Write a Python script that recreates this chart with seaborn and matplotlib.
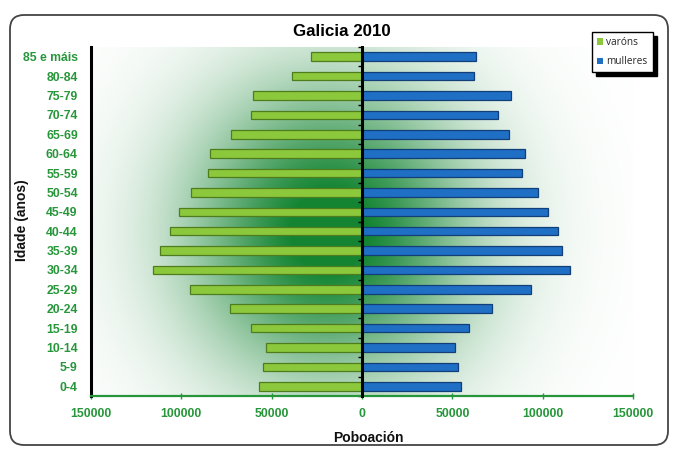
import numpy as np
import pandas as pd
import matplotlib
matplotlib.use("Agg")
import matplotlib.pyplot as plt
from matplotlib.patches import FancyBboxPatch
from matplotlib.transforms import IdentityTransform
import seaborn as sns

# Age groups, oldest at the top
idades = ["85 e máis", "80-84", "75-79", "70-74", "65-69", "60-64", "55-59",
          "50-54", "45-49", "40-44", "35-39", "30-34", "25-29", "20-24",
          "15-19", "10-14", "5-9", "0-4"]
varons = [28200, 38700, 60300, 61300, 72300, 84000, 85400, 94900, 101300,
          106500, 112000, 115500, 95200, 72900, 61600, 53100, 55000, 57200]
mulleres = [62900, 61800, 82600, 75400, 81300, 90400, 88500, 97400, 103100,
            108500, 110700, 114900, 93300, 71700, 59000, 51200, 52900, 54800]
xticks = [-150000, -100000, -50000, 0, 50000, 100000, 150000]

VERDE_TXT = "#27963a"
C_VAR = "#8cc83c"
C_MUL = "#1f6fc4"

sns.set_theme(style="white")
plt.rcParams["font.family"] = ["Liberation Sans", "DejaVu Sans"]

df = pd.DataFrame({"idade": idades, "varons": [-v for v in varons], "mulleres": mulleres})

fig = plt.figure(figsize=(6.75, 4.51), dpi=100)
ax = fig.add_axes([91 / 675, 1 - 396 / 451, (633 - 91) / 675, (396 - 47) / 451])

# soft green glow behind the pyramid
nx, ny = 400, 300
u = np.linspace(-1, 1, nx)
v = np.linspace(-0.5, len(idades) - 0.5, ny)
U, V = np.meshgrid(u, v)
inten = np.exp(-((U + 0.12) / 0.52) ** 2 - ((V - 9.0) / 7.5) ** 2)
inten = np.clip(inten * 1.08, 0, 1)
dark = np.array([0.08, 0.52, 0.20])
img = (1 - inten[..., None]) * np.ones(3) + inten[..., None] * dark
ax.imshow(img, extent=[-150000, 150000, len(idades) - 0.5, -0.5],
          aspect="auto", zorder=0, interpolation="bilinear")

sns.barplot(data=df, x="varons", y="idade", order=idades, orient="h",
            color=C_VAR, width=0.44, edgecolor="#4f7d1e", linewidth=0.9,
            saturation=1, ax=ax, zorder=3, label="varóns")
sns.barplot(data=df, x="mulleres", y="idade", order=idades, orient="h",
            color=C_MUL, width=0.44, edgecolor="#123f78", linewidth=0.9,
            saturation=1, ax=ax, zorder=3, label="mulleres")

ax.set_xlim(-150000, 150000)
ax.set_ylim(len(idades) - 0.5, -0.5)

# axes styling
ax.spines["top"].set_visible(False)
ax.spines["left"].set_color("black")
ax.spines["left"].set_linewidth(2.2)
ax.spines["bottom"].set_color(VERDE_TXT)
ax.spines["bottom"].set_linewidth(1.6)
ax.spines["right"].set_position(("data", 0))
ax.spines["right"].set_color("black")
ax.spines["right"].set_linewidth(2.2)
ax.spines["right"].set_zorder(5)

ax.set_xticks(xticks)
ax.set_xticklabels([f"{abs(t)}" for t in xticks])
ax.tick_params(axis="x", which="major", bottom=True, direction="inout",
               length=5, width=1, color=VERDE_TXT, labelcolor=VERDE_TXT,
               labelsize=8.8, pad=6)
for lab in ax.get_xticklabels():
    lab.set_fontweight("bold")

ax.set_yticks(range(len(idades)))
ax.set_yticklabels(idades)
ax.tick_params(axis="y", which="major", left=False, right=False,
               labelleft=True, labelright=False, labelcolor=VERDE_TXT,
               labelsize=8.8, pad=3.5)
ax.set_yticks(np.arange(-0.5, len(idades), 1.0), minor=True)
ax.tick_params(axis="y", which="minor", left=False, right=True,
               direction="in", length=3, width=1, color="black")
for lab in ax.get_yticklabels():
    lab.set_fontweight("bold")

ax.set_xlabel("")
ax.set_ylabel("")
fig.text(342 / 675, 1 - 32 / 451, "Galicia 2010", ha="center", va="center",
         fontsize=12.2, fontweight="bold", color="black")
fig.text(368 / 675, 1 - 438 / 451, "Poboación", ha="center", va="center",
         fontsize=10, fontweight="bold", color="#111111")
fig.text(22 / 675, 1 - 220 / 451, "Idade (anos)", ha="center", va="center",
         rotation=90, fontsize=10, fontweight="bold", color="#111111")

leg = ax.legend(loc="upper left", bbox_to_anchor=(592 / 675, 1 - 32 / 451),
                bbox_transform=fig.transFigure, frameon=True, fancybox=False,
                shadow={"color": "black", "alpha": 1, "ox": 3, "oy": -3},
                edgecolor="black", framealpha=1, fontsize=7.3, handlelength=0.55,
                handleheight=0.55, handletextpad=0.35, labelspacing=0.8,
                borderpad=0.5, borderaxespad=0)
leg.get_frame().set_linewidth(1.0)
for h in leg.legend_handles:
    h.set_edgecolor("none")
for t in leg.get_texts():
    t.set_fontfamily(["Open Sans", "DejaVu Sans"])

# rounded outer frame
frame = FancyBboxPatch((10, 6), 658, 430, boxstyle="round,pad=0,rounding_size=14",
                       transform=IdentityTransform(), fill=False,
                       edgecolor="#444444", linewidth=1.3)
fig.patches.append(frame)

fig.savefig("out.png", dpi=100, facecolor="white")
